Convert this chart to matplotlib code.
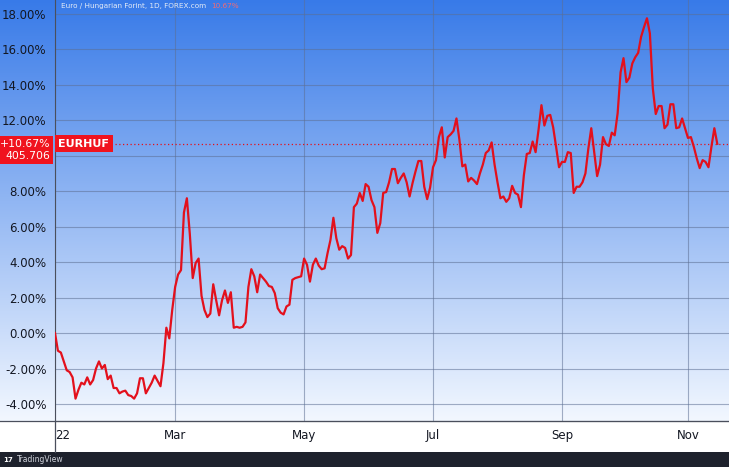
import numpy as np
import pandas as pd
import matplotlib
matplotlib.use("Agg")
import matplotlib.pyplot as plt
from matplotlib.patches import Rectangle
from matplotlib.lines import Line2D

# EUR/HUF daily change since first bar of 2022, in %
pct_change = [
    0.0, -1.0, -1.1, -1.6, -2.1, -2.2, -2.5, -3.7, -3.2, -2.8,
    -2.9, -2.5, -2.9, -2.65, -2.0, -1.6, -2.0, -1.8, -2.6, -2.4,
    -3.1, -3.1, -3.4, -3.3, -3.25, -3.5, -3.55, -3.7, -3.4, -2.55,
    -2.55, -3.4, -3.1, -2.8, -2.4, -2.7, -3.0, -1.7, 0.3, -0.3,
    1.3, 2.6, 3.3, 3.55, 6.8, 7.6, 5.6, 3.1, 3.95, 4.2,
    2.1, 1.3, 0.9, 1.1, 2.75, 1.85, 1.0, 1.85, 2.4, 1.7,
    2.3, 0.3, 0.35, 0.3, 0.35, 0.6, 2.6, 3.6, 3.2, 2.3,
    3.3, 3.1, 2.9, 2.65, 2.6, 2.25, 1.4, 1.15, 1.05, 1.5,
    1.6, 3.0, 3.1, 3.15, 3.2, 4.2, 3.85, 2.9, 3.85, 4.2,
    3.8, 3.6, 3.65, 4.5, 5.25, 6.5, 5.35, 4.7, 4.9, 4.8,
    4.2, 4.4, 7.1, 7.3, 7.9, 7.45, 8.4, 8.25, 7.5, 7.1,
    5.65, 6.2, 7.9, 7.95, 8.5, 9.25, 9.25, 8.45, 8.75, 9.0,
    8.5, 7.7, 8.45, 9.1, 9.7, 9.7, 8.25, 7.55, 8.2, 9.35,
    9.75, 11.05, 11.6, 9.9, 11.05, 11.2, 11.4, 12.1, 10.9, 9.4,
    9.5, 8.55, 8.75, 8.6, 8.4, 9.0, 9.5, 10.15, 10.3, 10.75,
    9.5, 8.5, 7.6, 7.7, 7.4, 7.6, 8.3, 7.9, 7.8, 7.1,
    8.9, 10.1, 10.15, 10.8, 10.2, 11.45, 12.85, 11.7, 12.25, 12.3,
    11.6, 10.5, 9.35, 9.65, 9.65, 10.2, 10.15, 7.9, 8.25, 8.25,
    8.5, 9.0, 10.4, 11.55, 10.2, 8.85, 9.5, 11.05, 10.65, 10.55,
    11.3, 11.15, 12.4, 14.7, 15.5, 14.15, 14.4, 15.2, 15.55, 15.8,
    16.7, 17.25, 17.75, 16.9, 13.8, 12.35, 12.8, 12.8, 11.55, 11.75,
    12.9, 12.9, 11.55, 11.6, 12.1, 11.55, 11.0, 11.05, 10.5, 9.85,
    9.3, 9.75, 9.65, 9.35, 10.5, 11.55, 10.67,
]
last_pct = 10.67
last_price = "405.706"
symbol = "EURHUF"
title = "Euro / Hungarian Forint, 1D, FOREX.com"
y_ticks = [-4, -2, 0, 2, 4, 6, 8, 10, 12, 14, 16, 18]
month_labels = ["22", "Mar", "May", "Jul", "Sep", "Nov"]
month_starts = ["2022-01", "2022-03", "2022-05", "2022-07", "2022-09", "2022-11"]

dates = pd.bdate_range("2022-01-03", periods=len(pct_change))
months = dates.strftime("%Y-%m")
tick_pos = [int(np.argmax(months == m)) for m in month_starts]

W, H = 729, 467
fig = plt.figure(figsize=(W / 100, H / 100), dpi=100)
fig.patch.set_facecolor("white")

# gradient background for chart + price scale
bg = fig.add_axes([0, 46 / H, 1, 421 / H])
top = np.array([0.22, 0.48, 0.91])
bot = np.array([0.95, 0.97, 1.0])
t = np.linspace(0, 1, 256)[:, None]
grad = top * (1 - t) + bot * t
bg.imshow(grad[:, None, :].repeat(2, axis=1), aspect="auto", extent=[0, 1, 0, 1])
bg.set_axis_off()

ax = fig.add_axes([55 / W, 46 / H, 674 / W, 421 / H])
ax.set_facecolor("none")
ax.plot(range(len(pct_change)), pct_change, color="#e3101c", lw=1.6, zorder=3)
ax.axhline(last_pct, color="#e3101c", lw=0.9, ls=(0, (1, 2)), zorder=2)

ax.set_xlim(0, 230)
ax.set_ylim(-4.96, 18.78)
ax.set_yticks(y_ticks)
# the 10.00% label sits under the last-price marker, as on the original
ax.set_yticklabels([f"{v:.2f}%" if v != 10 else "" for v in y_ticks])
ax.set_xticks(tick_pos)
ax.set_xticklabels(month_labels)
ax.get_xticklabels()[0].set_ha("left")
ax.tick_params(axis="y", length=0, pad=6, labelsize=8.5, labelcolor="#131722")
ax.tick_params(axis="x", length=0, pad=6, labelsize=8.5, labelcolor="#131722")
ax.grid(True, color="#5d6f93", alpha=0.55, lw=0.8)
for s in ["top", "right"]:
    ax.spines[s].set_visible(False)
ax.spines["left"].set_color("#4a4f5c")
ax.spines["bottom"].set_color("#4a4f5c")

# price scale labels
ax.annotate(f"+{last_pct:.2f}%\n{last_price}", xy=(0, last_pct), xycoords=ax.get_yaxis_transform(),
            xytext=(-3.5, -4.5), textcoords="offset points",
            ha="right", va="center", color="white", fontsize=7.8, linespacing=1.2,
            bbox=dict(boxstyle="square,pad=0.3", fc="#f0131e", ec="none"),
            zorder=6, annotation_clip=False)
ax.text(0.005, last_pct, symbol, transform=ax.get_yaxis_transform(),
        ha="left", va="center", color="white", fontsize=8, fontweight="bold",
        bbox=dict(boxstyle="square,pad=0.3", fc="#f0131e", ec="none"), zorder=5)

# header text
ttl = fig.text(61 / W, 1 - 6 / H, title, color="#e4ebf7", fontsize=5.2, va="center", ha="left")
fig.canvas.draw()
tb = ttl.get_window_extent()
fig.text(tb.x1 / W + 5 / W, 1 - 6 / H, f"{last_pct:.2f}%", color="#ef6a78", fontsize=5.2,
         va="center", ha="left")

# axis line continuing through the time scale, and footer
fig.add_artist(Line2D([0, 1], [46 / H, 46 / H], color="#4a4f5c", lw=0.9))
fig.add_artist(Line2D([55 / W, 55 / W], [15 / H, 46 / H], color="#4a4f5c", lw=0.9))
fig.add_artist(Rectangle((0, 0), 1, 15 / H, transform=fig.transFigure, fc="#1e222d", ec="none"))
fig.text(3 / W, 7 / H, "17", color="white", fontsize=5, fontweight="bold", va="center")
fig.text(17 / W, 7 / H, "TradingView", color="#d1d4dc", fontsize=5.5, va="center")

fig.savefig("out.png", dpi=100)
